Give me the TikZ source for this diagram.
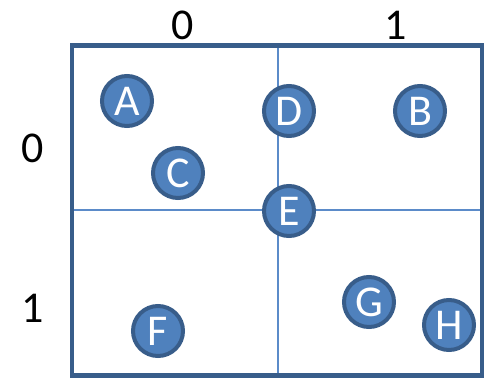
\documentclass[tikz,border=0pt]{standalone}
\usepackage{fontspec}
\setmainfont{Carlito}
\definecolor{ofill}{HTML}{4F81BD}
\definecolor{oline}{HTML}{385D8A}
\definecolor{gridc}{HTML}{5B8BC9}
\begin{document}
\begin{tikzpicture}[x=1pt,y=-1pt,
  pt/.style={circle,fill=ofill,draw=oline,line width=4pt,minimum size=50pt,inner sep=0pt,text=white,font=\fontsize{44}{44}\selectfont},
  lbl/.style={font=\fontsize{44}{44}\selectfont,text=black,inner sep=0pt}]
\useasboundingbox (0,0) rectangle (485,378);
\draw[gridc,line width=1.4pt] (278,45) -- (278,375);
\draw[gridc,line width=1.4pt] (72,210) -- (482,210);
\draw[oline,line width=4.5pt] (72,45.5) rectangle (482,375.5);
\node[lbl] (c0) at (183,25) {0};
\node[lbl] (c1) at (396,25) {1};
\node[lbl] (r0) at (33,148) {0};
\node[lbl] (r1) at (33,308) {1};
\node[pt] (A) at (127,101) {A};
\node[pt] (B) at (420,111) {B};
\node[pt] (C) at (178,173) {C};
\node[pt] (D) at (289,111) {D};
\node[pt] (E) at (289,211) {E};
\node[pt] (F) at (158,331) {F};
\node[pt] (G) at (369,302) {G};
\node[pt] (H) at (449,325) {H};
\end{tikzpicture}
\end{document}
